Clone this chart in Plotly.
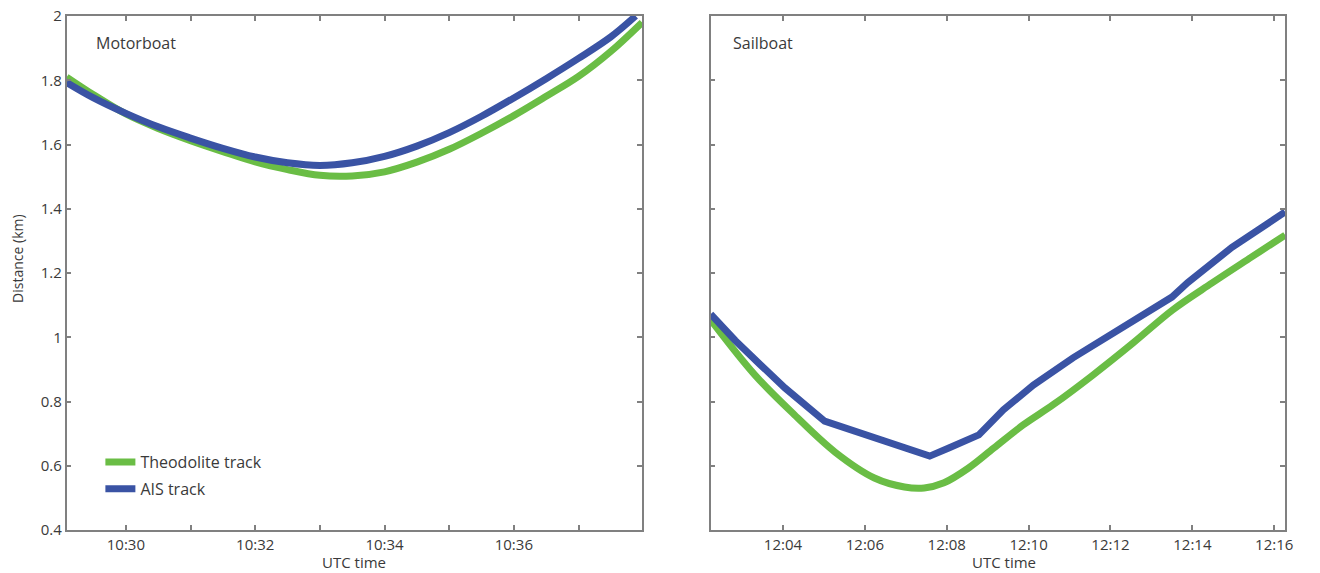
import plotly.graph_objects as go

DAY = "2020-01-01 "

# Motorboat
mb_theo_t = ["10:29:05", "10:29:30", "10:30:00", "10:30:30", "10:31:00", "10:31:30", "10:32:00",
             "10:32:30", "10:33:00", "10:33:30", "10:34:00", "10:34:30", "10:35:00", "10:35:30",
             "10:36:00", "10:36:30", "10:37:00", "10:37:30", "10:37:59"]
mb_theo_d = [1.81, 1.755, 1.695, 1.650, 1.612, 1.578, 1.546, 1.522, 1.504, 1.502, 1.515, 1.545,
             1.585, 1.635, 1.690, 1.750, 1.812, 1.890, 1.980]
mb_ais_t = ["10:29:05", "10:29:30", "10:30:00", "10:30:30", "10:31:00", "10:31:30", "10:32:00",
            "10:32:30", "10:33:00", "10:33:30", "10:34:00", "10:34:30", "10:35:00", "10:35:30",
            "10:36:00", "10:36:30", "10:37:00", "10:37:30", "10:37:53"]
mb_ais_d = [1.793, 1.745, 1.697, 1.655, 1.620, 1.588, 1.561, 1.543, 1.535, 1.543, 1.563, 1.595,
            1.637, 1.688, 1.745, 1.805, 1.868, 1.935, 2.0]

# Sailboat
sb_theo_t = ["12:02:14", "12:03:19", "12:04:17", "12:05:16", "12:06:14", "12:06:58", "12:07:27",
             "12:07:56", "12:08:32", "12:09:09", "12:09:52", "12:10:36", "12:11:34", "12:12:33",
             "12:13:31", "12:14:29", "12:15:27", "12:16:16"]
sb_theo_d = [1.054, 0.882, 0.758, 0.643, 0.562, 0.534, 0.531, 0.547, 0.593, 0.655, 0.727, 0.79,
             0.882, 0.982, 1.085, 1.169, 1.25, 1.318]
sb_ais_t = ["12:02:14", "12:02:50", "12:03:27", "12:04:03", "12:05:01", "12:07:35", "12:08:03",
            "12:08:47", "12:09:23", "12:10:07", "12:11:05", "12:12:04", "12:12:55", "12:13:30",
            "12:13:53", "12:14:19", "12:14:58", "12:16:16"]
sb_ais_d = [1.072, 0.99, 0.914, 0.842, 0.739, 0.630, 0.655, 0.696, 0.774, 0.851, 0.936, 1.012,
            1.075, 1.125, 1.17, 1.212, 1.28, 1.39]

mb_ticks = ["10:30", "10:31", "10:32", "10:33", "10:34", "10:35", "10:36", "10:37"]
mb_labels = ["10:30", "", "10:32", "", "10:34", "", "10:36", ""]
sb_ticks = ["12:04", "12:06", "12:08", "12:10", "12:12", "12:14", "12:16"]
y_ticks = [0.4, 0.6, 0.8, 1, 1.2, 1.4, 1.6, 1.8, 2]
y_labels = ["0.4", "0.6", "0.8", "1", "1.2", "1.4", "1.6", "1.8", "2"]

GREEN = "#6abd45"
BLUE = "#3a53a4"
AXC = "#808080"
TXT = "#3a3a3a"
FONT = "Open Sans"

def d(ts):
    return [DAY + t for t in ts]

fig = go.Figure()
fig.add_trace(go.Scatter(x=d(mb_theo_t), y=mb_theo_d, mode="lines", name="Theodolite track",
                         legendgroup="theo",
                         line=dict(color=GREEN, width=7, shape="spline"), xaxis="x", yaxis="y"))
fig.add_trace(go.Scatter(x=d(mb_ais_t), y=mb_ais_d, mode="lines", name="AIS track",
                         legendgroup="ais",
                         line=dict(color=BLUE, width=7, shape="spline"), xaxis="x", yaxis="y"))
fig.add_trace(go.Scatter(x=d(sb_theo_t), y=sb_theo_d, mode="lines", name="Theodolite track",
                         legendgroup="theo",
                         line=dict(color=GREEN, width=7, shape="spline"), showlegend=False,
                         xaxis="x2", yaxis="y2"))
fig.add_trace(go.Scatter(x=d(sb_ais_t), y=sb_ais_d, mode="lines", name="AIS track",
                         legendgroup="ais",
                         line=dict(color=BLUE, width=7), showlegend=False,
                         xaxis="x2", yaxis="y2"))

W, H = 1320, 573
TOP, BOT = 16, 530
PH = BOT - TOP


def px(x):
    return x / W


def py(y):
    return (BOT - y) / PH


axis_common = dict(showline=True, linecolor=AXC, linewidth=1.5, mirror="ticks", ticks="inside",
                   ticklen=5, tickcolor=AXC, tickwidth=1.5, showgrid=False, zeroline=False,
                   ticklabeloverflow="allow",
                   tickfont=dict(family=FONT, size=15, color=TXT))

fig.update_layout(
    width=W, height=H,
    margin=dict(l=0, r=0, t=TOP, b=H - BOT),
    plot_bgcolor="white", paper_bgcolor="white",
    font=dict(family=FONT, color=TXT),
    xaxis=dict(domain=[px(67), px(646)], type="date",
               range=[DAY + "10:29:05", DAY + "10:37:59"],
               tickvals=d(mb_ticks), ticktext=mb_labels, anchor="y", **axis_common),
    yaxis=dict(domain=[0, 1], range=[0.4, 2], tickvals=y_ticks, ticktext=y_labels,
               anchor="x", **axis_common),
    xaxis2=dict(domain=[px(715), px(1293)], type="date",
                range=[DAY + "12:02:14", DAY + "12:16:16"],
                tickvals=d(sb_ticks), ticktext=sb_ticks, anchor="y2", **axis_common),
    yaxis2=dict(domain=[0, 1], range=[0.4, 2], tickvals=y_ticks, showticklabels=False,
                anchor="x2", **axis_common),
    legend=dict(x=px(101), y=py(445), xanchor="left", yanchor="top", bgcolor="rgba(0,0,0,0)",
                font=dict(family=FONT, size=16, color=TXT), tracegroupgap=3, itemwidth=30),
    annotations=[
        dict(text="Motorboat", x=px(95), xref="paper", y=py(43), yref="paper",
             xanchor="left", yanchor="middle", showarrow=False,
             font=dict(family=FONT, size=16, color=TXT)),
        dict(text="Sailboat", x=px(735), xref="paper", y=py(43), yref="paper",
             xanchor="left", yanchor="middle", showarrow=False,
             font=dict(family=FONT, size=16, color=TXT)),
        dict(text="UTC time", x=px(356), xref="paper", y=py(562), yref="paper",
             xanchor="center", yanchor="middle", showarrow=False,
             font=dict(family=FONT, size=15, color=TXT)),
        dict(text="UTC time", x=px(1010), xref="paper", y=py(562), yref="paper",
             xanchor="center", yanchor="middle", showarrow=False,
             font=dict(family=FONT, size=15, color=TXT)),
        dict(text="Distance (km)", x=px(17), xref="paper", y=py(258), yref="paper",
             xanchor="center", yanchor="middle", showarrow=False, textangle=-90,
             font=dict(family=FONT, size=14, color=TXT)),
    ],
)

fig.write_html("out.html", config={"displayModeBar": False},
               post_script="document.body.style.margin='0';")
